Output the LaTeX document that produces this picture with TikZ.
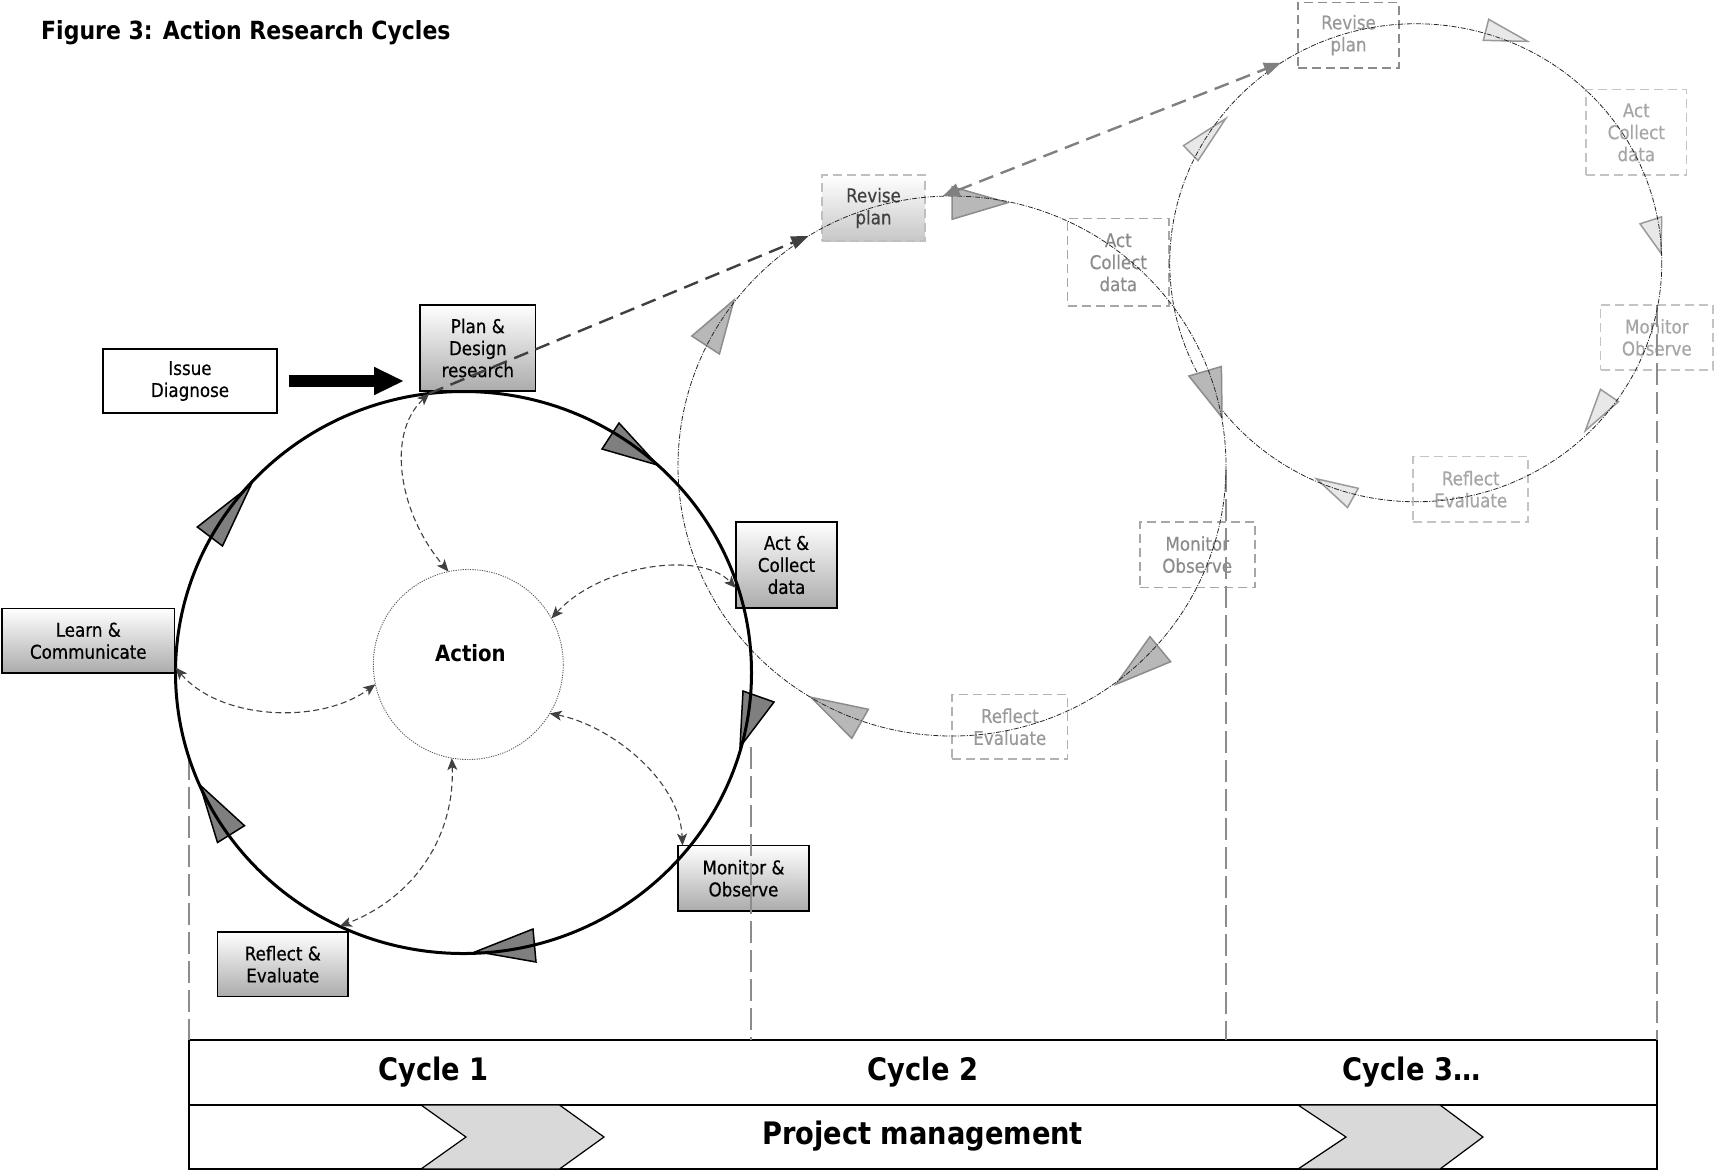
\documentclass[tikz,border=0pt]{standalone}
\usepackage{fontspec}
\setmainfont{DejaVu Sans}[FakeStretch=0.88]
\newfontfamily\boxfont{DejaVu Sans}[FakeStretch=0.88, FakeBold=0.45]
\usetikzlibrary{arrows.meta,shapes.geometric,calc}

\definecolor{dk}{HTML}{404040}
\definecolor{midgray}{HTML}{808080}
\definecolor{triA}{HTML}{7F7F7F}
\definecolor{triB}{HTML}{B8B8B8}
\definecolor{triBline}{HTML}{8C8C8C}
\definecolor{triC}{HTML}{E8E8E8}
\definecolor{triCline}{HTML}{9A9A9A}
\definecolor{twoline}{HTML}{A6A6A6}
\definecolor{twotext}{HTML}{8C8C8C}
\definecolor{threeline}{HTML}{C4C4C4}
\definecolor{threetext}{HTML}{A6A6A6}
\definecolor{vline}{HTML}{8C8C8C}

\begin{document}
\begin{tikzpicture}[x=1pt,y=-1pt,
  lbl/.style={font=\boxfont\fontsize{19}{22}\selectfont, align=center},
  shadebox/.style={lbl, draw=black, line width=1.6pt, top color=white,
    bottom color=black!33, inner sep=0pt, outer sep=0pt},
  plainbox/.style={lbl, draw=black, line width=1.4pt, fill=white,
    inner sep=0pt, outer sep=0pt},
  dashbox/.style={lbl, line width=1.8pt, dash pattern=on 9pt off 5pt,
    inner sep=0pt, outer sep=0pt},
  twobox/.style={dashbox, draw=twoline, text=twotext},
  threebox/.style={dashbox, draw=threeline, text=threetext},
  loop/.style={ellipse, inner sep=0pt, outer sep=0pt},
  faintloop/.style={draw=black!85, line width=0.8pt,
    dash pattern=on 5pt off 1.5pt on 1pt off 1.5pt},
  triA/.style={fill=triA, draw=black, line width=1.5pt, line join=miter},
  triB/.style={fill=triB, draw=triBline, line width=1.5pt},
  triC/.style={fill=triC, draw=triCline, line width=1.5pt},
  link/.style={draw=dk, line width=1.1pt, dash pattern=on 6pt off 3.5pt,
    {Stealth[length=12pt,width=10pt,inset=3pt]}-{Stealth[length=12pt,width=10pt,inset=3pt]}},
  jump/.style={line width=2.4pt, dash pattern=on 15pt off 8pt},
  drop/.style={draw=vline, line width=2pt, dash pattern=on 22pt off 7pt},
  cyclbl/.style={font=\bfseries\fontsize{31}{36}\selectfont, anchor=base},
  chev/.style={fill=black!15, draw=black, line width=1.2pt, line join=miter}
]
\useasboundingbox (0,0) rectangle (1715,1171);

% heading
\node[anchor=base west, inner sep=0pt, font=\bfseries\fontsize{25}{30}\selectfont]
  (title) at (41,39) {Figure 3: Action Research Cycles};

% ---------- timeline bar ----------
\node[draw, line width=2pt, minimum width=1468, minimum height=65,
  inner sep=0pt, outer sep=0pt, anchor=north west] (cycrow) at (189,1040) {};
\node[draw, line width=2pt, minimum width=1468, minimum height=64,
  inner sep=0pt, outer sep=0pt, anchor=north west] (pmrow) at (189,1105) {};
\filldraw[chev] (421,1105) -- (559.5,1105) -- (604,1137) -- (559.5,1169)
  -- (421,1169) -- (466,1137) -- cycle;
\filldraw[chev] (1298,1105) -- (1440,1105) -- (1483,1137) -- (1440,1169)
  -- (1298,1169) -- (1346,1137) -- cycle;
\node[cyclbl] (cy1) at (433.7,1080) {Cycle 1};
\node[cyclbl] (cy2) at (923,1080) {Cycle 2};
\node[cyclbl] (cy3) at (1411.6,1080) {Cycle 3…};
\node[cyclbl] (pm) at (922.6,1144) {Project management};

% ---------- cycle 1 boxes ----------
\node[plainbox, minimum width=174, minimum height=64] (issue) at (190,381) {Issue\\Diagnose};
\node[shadebox, minimum width=115.5, minimum height=86] (plan) at (477.8,348) {Plan \&\\Design\\research};
\node[shadebox, minimum width=172.5, minimum height=64.5] (learn) at (88.3,640.8) {Learn \&\\Communicate};
\node[shadebox, minimum width=101, minimum height=86] (act) at (786.5,565) {Act \&\\Collect\\data};
\node[shadebox, minimum width=131, minimum height=65.5] (monitor) at (743.5,878.3) {Monitor \&\\Observe};
\node[shadebox, minimum width=130.3, minimum height=64.5] (reflect) at (282.8,964.3) {Reflect \&\\Evaluate};

% ---------- cycle 2 and 3 boxes ----------
\node[dashbox, draw=black!25, text=dk, top color=white, bottom color=black!22,
  minimum width=103, minimum height=66] (rev2) at (873.5,208) {Revise\\plan};
\node[twobox, minimum width=101.5, minimum height=87.5] (act2) at (1118.3,262.3) {Act\\Collect\\data};
\node[twobox, minimum width=115, minimum height=65.8] (mon2) at (1197.2,554.6) {Monitor\\Observe};
\node[twobox, draw=black!30, text=black!40, minimum width=115.5, minimum height=64.8] (ref2) at (1009.8,726.8) {Reflect\\Evaluate};

\node[dashbox, draw=black!45, text=black!40, minimum width=101, minimum height=65.2] (rev3) at (1348.5,35.1) {Revise\\plan};
\node[threebox, minimum width=100.5, minimum height=85.7] (act3) at (1636.3,132.4) {Act\\Collect\\data};
\node[threebox, minimum width=112.5, minimum height=64.8] (mon3) at (1656.8,337.4) {Monitor\\Observe};
\node[threebox, minimum width=115.3, minimum height=65.3] (ref3) at (1470.7,489.2) {Reflect\\Evaluate};

% ---------- cycle loops (paths only, labels above) ----------
\node[loop, minimum width=576, minimum height=562] (cyc1) at (463.5,672.5) {};
\node[loop, minimum width=548, minimum height=540] (cyc2) at (952,466) {};
\node[loop, minimum width=492, minimum height=478] (cyc3) at (1415.75,262.75) {};

% time markers dropping to the bar
\coordinate (d1) at (189,758);
\coordinate (d2) at (750.5,747);
\coordinate (d3) at (1226,470);
\coordinate (d4) at (1657,305);
\foreach \d in {d1,d2,d3,d4}
  \draw[drop] (\d) -- (\d |- cycrow.north);

% cycle 3 direction marks and loop
\filldraw[triC] (1488.7,19.3) -- (1483.3,40.3) -- (1527.7,41.4) -- cycle;
\filldraw[triC] (1661.7,216.8) -- (1640,223.8) -- (1661,253.2) -- cycle;
\filldraw[triC] (1600.5,389.3) -- (1618.5,401.6) -- (1585.3,430.7) -- cycle;
\filldraw[triC] (1316.5,478.8) -- (1358.3,488.3) -- (1347.5,507.5) -- cycle;
\filldraw[triC] (1225.7,118.6) -- (1183.5,145.6) -- (1198,160.6) -- cycle;
\draw[faintloop] (cyc3.center) ellipse [x radius=246, y radius=239];

% cycle 2 direction marks and loop
\filldraw[triB] (734,300) -- (691.8,336) -- (719.4,354) -- cycle;
\filldraw[triB] (952,186.7) -- (952,219.3) -- (1007.6,202.7) -- cycle;
\filldraw[triB] (1188.9,376) -- (1221.4,366.5) -- (1222,417.4) -- cycle;
\filldraw[triB] (1150,636.7) -- (1170.6,661.7) -- (1116,684.3) -- cycle;
\filldraw[triB] (811,697.3) -- (868.4,709.3) -- (851.8,738.3) -- cycle;
\draw[faintloop] (cyc2.center) ellipse [x radius=274, y radius=270];

% cycle 1 direction marks and loop
\filldraw[triA] (619,423) -- (602,449) -- (657.5,465) -- cycle;
\filldraw[triA] (743,691) -- (774,702) -- (740,747) -- cycle;
\filldraw[triA] (533,929) -- (536,962) -- (476,951.5) -- cycle;
\filldraw[triA] (200,785) -- (244.5,825.7) -- (217.5,842.5) -- cycle;
\filldraw[triA] (251,485) -- (197.3,527) -- (222.5,546) -- cycle;
\draw[line width=3pt] (cyc1.center) ellipse [x radius=288, y radius=281];

% centre of cycle 1
\node[circle, draw=black!65, line width=0.9pt, dash pattern=on 1.2pt off 1.2pt,
  minimum size=190, inner sep=0pt, outer sep=0pt] (action) at (468.3,664.5) {};
\node[font=\bfseries\fontsize{22.4}{26}\selectfont, anchor=base] (actionlbl)
  at (470.4,661.7) {Action};

% entry arrow
\draw[line width=12pt, shorten <=12pt, shorten >=16pt,
  -{Triangle[length=30pt,width=26pt]}] (issue.east) -- (issue.east -| plan.west);

% links between the steps and the centre
\draw[link] (cyc1.97) .. controls (385,435) and (400,515) .. (action.102.5);
\draw[link] (action.29.3) .. controls (600,565) and (700,550) .. ([yshift=-23pt]act.west);
\draw[link] (action.-31.5) .. controls (610,725) and (680,780) .. ([xshift=4.5pt]monitor.north west);
\draw[link] (action.-100.3) .. controls (455,830) and (420,895) .. (cyc1.-116.7);
\draw[link] (cyc1.179) .. controls (220,720) and (320,725) .. (action.-168.5);

% hand-over between cycles
\draw[jump, draw=dk, -{Triangle[length=17pt,width=13pt]}] (cyc1.97) -- (cyc2.122.7);
\draw[jump, draw=midgray, {Triangle[length=17pt,width=13pt]}-{Triangle[length=17pt,width=13pt]}]
  (cyc2.92.6) -- (cyc3.124.6);
\end{tikzpicture}
\end{document}
